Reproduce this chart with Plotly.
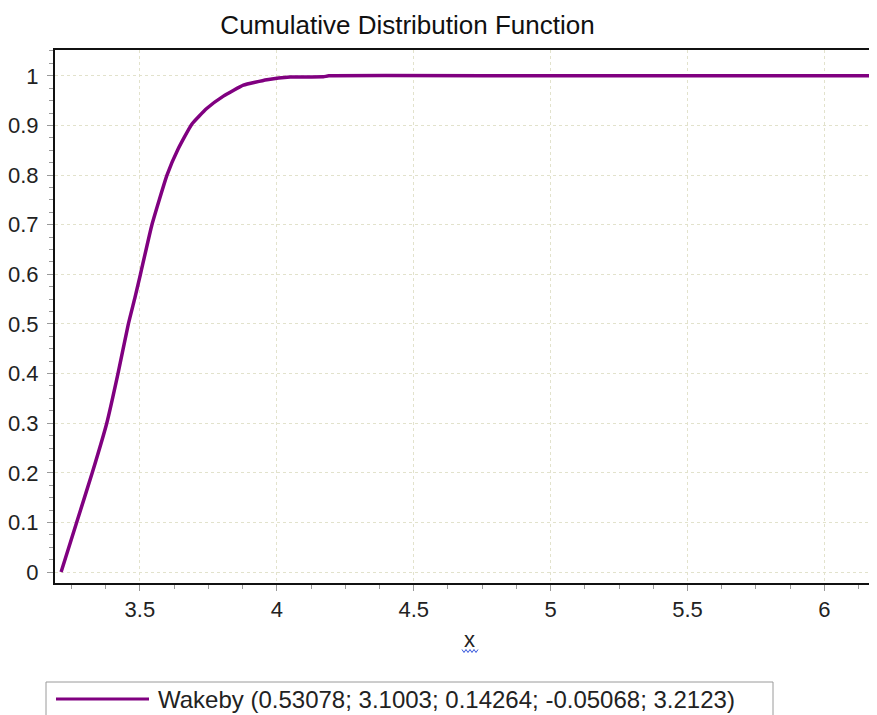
import plotly.graph_objects as go

# Values
x_vals = [3.2123, 3.269, 3.326, 3.379, 3.420, 3.458, 3.482, 3.502, 3.544, 3.599,
          3.640, 3.689, 3.744, 3.805, 3.878, 3.964, 4.049, 4.17, 4.19, 5.0, 6.3]
cdf_vals = [0.0, 0.1, 0.2, 0.3, 0.4, 0.5, 0.553, 0.6, 0.7, 0.8,
            0.853, 0.902, 0.934, 0.959, 0.981, 0.992, 0.9976, 0.998, 1.0, 1.0, 1.0]
x_ticks = [3.5, 4, 4.5, 5, 5.5, 6]
x_tick_labels = ["3.5", "4", "4.5", "5", "5.5", "6"]
y_ticks = [0, 0.1, 0.2, 0.3, 0.4, 0.5, 0.6, 0.7, 0.8, 0.9, 1]
y_tick_labels = ["0", "0.1", "0.2", "0.3", "0.4", "0.5", "0.6", "0.7", "0.8", "0.9", "1"]
series_name = "Wakeby (0.53078; 3.1003; 0.14264; -0.05068; 3.2123)"
title_text = "Cumulative Distribution Function"
x_title = "x"

# page has an 8px body margin, so the figure is shifted by that much;
# the plot runs on past the right edge of the window, as in the reference
OFF = 8
W, H = 885, 715 - OFF
L, R, T = 55 - OFF, 0, 50 - OFF
PW, PH = W - L - R, 533
B = H - T - PH
X0 = 3.19
X_PER_PX = (6.192 - 3.19) / 822.0
X1 = X0 + PW * X_PER_PX
PURPLE = "#800080"
FONT = "Liberation Sans, Arial, sans-serif"


def px(x):  # reference page pixel -> paper x
    return (x - OFF - L) / PW


def py(y):  # reference page pixel -> paper y
    return (T + PH - (y - OFF)) / PH


fig = go.Figure()
fig.add_trace(go.Scatter(x=x_vals, y=cdf_vals, mode="lines", name=series_name,
                         line=dict(color=PURPLE, width=3.5, shape="spline", smoothing=0.4),
                         showlegend=False))

fig.update_layout(
    width=W, height=H,
    margin=dict(l=L, r=R, t=T, b=B),
    paper_bgcolor="white", plot_bgcolor="white",
    font=dict(family=FONT, color="#222"),
    title=dict(text=title_text, x=(407.5 - OFF) / W, xref="container", xanchor="center",
               y=1 - (25 - OFF) / H, yref="container", yanchor="middle",
               font=dict(size=26, color="#111", family=FONT)),
)

fig.update_xaxes(
    range=[X0, X1], tickvals=x_ticks, ticktext=x_tick_labels,
    showline=True, linecolor="#111", linewidth=2, mirror=True,
    ticks="outside", ticklen=6, tickcolor="#999", tickwidth=1,
    showgrid=True, gridcolor="#e2e2cc", griddash="dot", gridwidth=1,
    zeroline=False, tickfont=dict(size=22, color="#222"),
    minor=dict(dtick=0.125, tick0=3.5, ticks="outside", ticklen=4, tickcolor="#999", showgrid=False),
    title=dict(text=x_title, font=dict(size=22, color="#222"), standoff=8),
)
fig.update_yaxes(
    range=[-0.022, 1.052], tickvals=y_ticks, ticktext=y_tick_labels,
    showline=True, linecolor="#111", linewidth=2, mirror=False,
    ticks="outside", ticklen=6, tickcolor="#999", tickwidth=1,
    showgrid=True, gridcolor="#e2e2cc", griddash="dot", gridwidth=1,
    zeroline=False, tickfont=dict(size=22, color="#222"),
    minor=dict(dtick=0.025, tick0=0, ticks="outside", ticklen=4, tickcolor="#999", showgrid=False),
    ticklabelstandoff=4,
)

# spell-check style squiggle under the axis title
sq_x0, sq_y = 462, 651
pts = []
for i in range(9):
    xx = sq_x0 + i * 2
    yy = sq_y + (1.5 if i % 2 else -1.5)
    pts.append(f"{px(xx):.5f},{py(yy):.5f}")
fig.add_shape(type="path", xref="paper", yref="paper",
              path="M" + " L".join(pts), line=dict(color="#3355dd", width=1))

# x axis title placed where the reference has it
fig.layout.xaxis.title = None
fig.add_annotation(text=x_title, xref="paper", yref="paper", x=px(469), y=py(639),
                   xanchor="center", yanchor="middle", showarrow=False,
                   font=dict(size=22, color="#222", family=FONT))

# legend box (cut at bottom edge as in reference)
fig.add_shape(type="rect", xref="paper", yref="paper",
              x0=px(46), x1=px(773), y0=py(740), y1=py(682),
              line=dict(color="#9a9a9a", width=1), fillcolor="white", layer="above")
fig.add_shape(type="line", xref="paper", yref="paper",
              x0=px(56), x1=px(149), y0=py(699), y1=py(699),
              line=dict(color=PURPLE, width=3))
fig.add_annotation(text=series_name, xref="paper", yref="paper",
                   x=px(156), y=py(699), xanchor="left", yanchor="middle",
                   showarrow=False, font=dict(size=24, color="#222", family=FONT))

fig.write_html("out.html", post_script="document.body.style.overflow='hidden';")
